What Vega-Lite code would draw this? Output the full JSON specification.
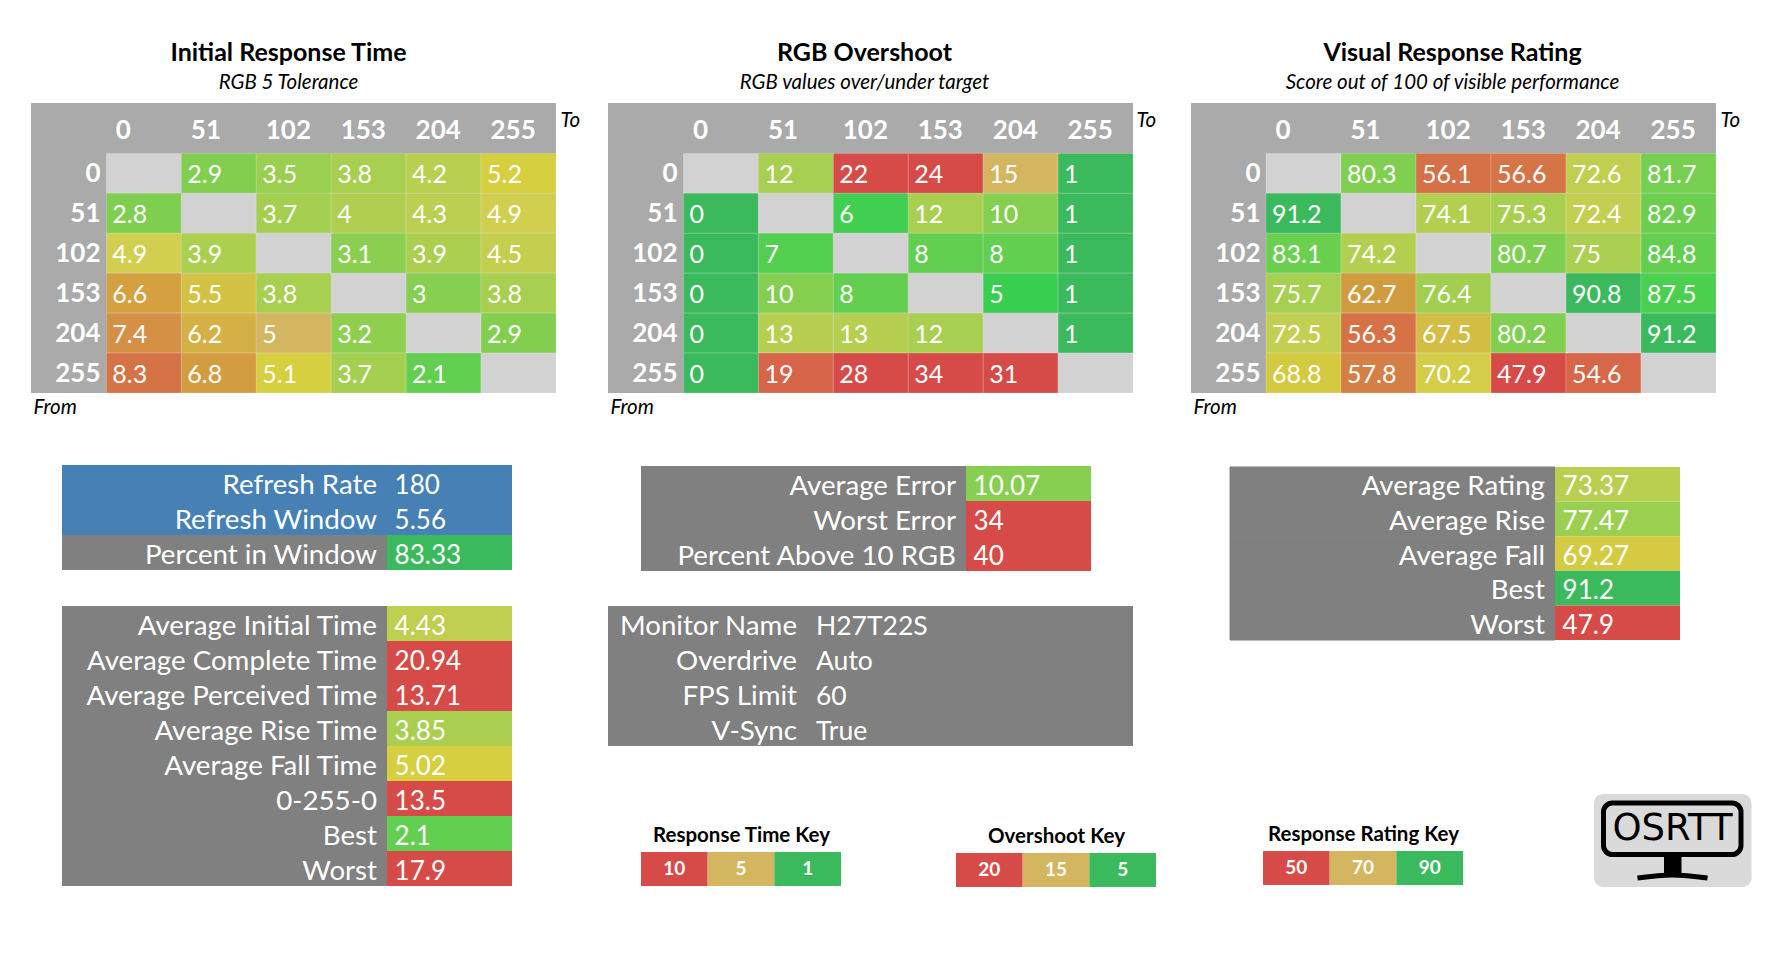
{
  "$schema": "https://vega.github.io/schema/vega-lite/v6.json",
  "width": 1784,
  "height": 962,
  "padding": 0,
  "autosize": {"type": "none"},
  "background": "white",
  "config": {
    "view": {"stroke": null},
    "text": {"font": "Lato", "color": "white"},
    "axis": {"labelFont": "Lato", "titleFont": "Lato", "grid": false, "domain": false, "ticks": false, "labelBound": false, "labelOverlap": false}
  },
  "datasets": {
    "initial": [
      {"from":0,"to":0,"value":null},{"from":0,"to":51,"value":2.9},{"from":0,"to":102,"value":3.5},{"from":0,"to":153,"value":3.8},{"from":0,"to":204,"value":4.2},{"from":0,"to":255,"value":5.2},
      {"from":51,"to":0,"value":2.8},{"from":51,"to":51,"value":null},{"from":51,"to":102,"value":3.7},{"from":51,"to":153,"value":4},{"from":51,"to":204,"value":4.3},{"from":51,"to":255,"value":4.9},
      {"from":102,"to":0,"value":4.9},{"from":102,"to":51,"value":3.9},{"from":102,"to":102,"value":null},{"from":102,"to":153,"value":3.1},{"from":102,"to":204,"value":3.9},{"from":102,"to":255,"value":4.5},
      {"from":153,"to":0,"value":6.6},{"from":153,"to":51,"value":5.5},{"from":153,"to":102,"value":3.8},{"from":153,"to":153,"value":null},{"from":153,"to":204,"value":3},{"from":153,"to":255,"value":3.8},
      {"from":204,"to":0,"value":7.4},{"from":204,"to":51,"value":6.2},{"from":204,"to":102,"value":5},{"from":204,"to":153,"value":3.2},{"from":204,"to":204,"value":null},{"from":204,"to":255,"value":2.9},
      {"from":255,"to":0,"value":8.3},{"from":255,"to":51,"value":6.8},{"from":255,"to":102,"value":5.1},{"from":255,"to":153,"value":3.7},{"from":255,"to":204,"value":2.1},{"from":255,"to":255,"value":null}
    ],
    "overshoot": [
      {"from":0,"to":0,"value":null},{"from":0,"to":51,"value":12},{"from":0,"to":102,"value":22},{"from":0,"to":153,"value":24},{"from":0,"to":204,"value":15},{"from":0,"to":255,"value":1},
      {"from":51,"to":0,"value":0},{"from":51,"to":51,"value":null},{"from":51,"to":102,"value":6},{"from":51,"to":153,"value":12},{"from":51,"to":204,"value":10},{"from":51,"to":255,"value":1},
      {"from":102,"to":0,"value":0},{"from":102,"to":51,"value":7},{"from":102,"to":102,"value":null},{"from":102,"to":153,"value":8},{"from":102,"to":204,"value":8},{"from":102,"to":255,"value":1},
      {"from":153,"to":0,"value":0},{"from":153,"to":51,"value":10},{"from":153,"to":102,"value":8},{"from":153,"to":153,"value":null},{"from":153,"to":204,"value":5},{"from":153,"to":255,"value":1},
      {"from":204,"to":0,"value":0},{"from":204,"to":51,"value":13},{"from":204,"to":102,"value":13},{"from":204,"to":153,"value":12},{"from":204,"to":204,"value":null},{"from":204,"to":255,"value":1},
      {"from":255,"to":0,"value":0},{"from":255,"to":51,"value":19},{"from":255,"to":102,"value":28},{"from":255,"to":153,"value":34},{"from":255,"to":204,"value":31},{"from":255,"to":255,"value":null}
    ],
    "rating": [
      {"from":0,"to":0,"value":null},{"from":0,"to":51,"value":80.3},{"from":0,"to":102,"value":56.1},{"from":0,"to":153,"value":56.6},{"from":0,"to":204,"value":72.6},{"from":0,"to":255,"value":81.7},
      {"from":51,"to":0,"value":91.2},{"from":51,"to":51,"value":null},{"from":51,"to":102,"value":74.1},{"from":51,"to":153,"value":75.3},{"from":51,"to":204,"value":72.4},{"from":51,"to":255,"value":82.9},
      {"from":102,"to":0,"value":83.1},{"from":102,"to":51,"value":74.2},{"from":102,"to":102,"value":null},{"from":102,"to":153,"value":80.7},{"from":102,"to":204,"value":75},{"from":102,"to":255,"value":84.8},
      {"from":153,"to":0,"value":75.7},{"from":153,"to":51,"value":62.7},{"from":153,"to":102,"value":76.4},{"from":153,"to":153,"value":null},{"from":153,"to":204,"value":90.8},{"from":153,"to":255,"value":87.5},
      {"from":204,"to":0,"value":72.5},{"from":204,"to":51,"value":56.3},{"from":204,"to":102,"value":67.5},{"from":204,"to":153,"value":80.2},{"from":204,"to":204,"value":null},{"from":204,"to":255,"value":91.2},
      {"from":255,"to":0,"value":68.8},{"from":255,"to":51,"value":57.8},{"from":255,"to":102,"value":70.2},{"from":255,"to":153,"value":47.9},{"from":255,"to":204,"value":54.6},{"from":255,"to":255,"value":null}
    ],
    "refresh": [
      {"label":"Refresh Rate","value":180,"group":"refresh"},
      {"label":"Refresh Window","value":5.56,"group":"refresh"},
      {"label":"Percent in Window","value":83.33,"group":"percent"}
    ],
    "times": [
      {"label":"Average Initial Time","value":4.43},
      {"label":"Average Complete Time","value":20.94},
      {"label":"Average Perceived Time","value":13.71},
      {"label":"Average Rise Time","value":3.85},
      {"label":"Average Fall Time","value":5.02},
      {"label":"0-255-0","value":13.5},
      {"label":"Best","value":2.1},
      {"label":"Worst","value":17.9}
    ],
    "errors": [
      {"label":"Average Error","value":10.07},
      {"label":"Worst Error","value":34},
      {"label":"Percent Above 10 RGB","value":40}
    ],
    "monitor": [
      {"label":"Monitor Name","value":"H27T22S"},
      {"label":"Overdrive","value":"Auto"},
      {"label":"FPS Limit","value":"60"},
      {"label":"V-Sync","value":"True"}
    ],
    "ratings": [
      {"label":"Average Rating","value":73.37},
      {"label":"Average Rise","value":77.47},
      {"label":"Average Fall","value":69.27},
      {"label":"Best","value":91.2},
      {"label":"Worst","value":47.9}
    ],
    "keyTime": [{"key":"10","level":"bad"},{"key":"5","level":"mid"},{"key":"1","level":"good"}],
    "keyOver": [{"key":"20","level":"bad"},{"key":"15","level":"mid"},{"key":"5","level":"good"}],
    "keyRate": [{"key":"50","level":"bad"},{"key":"70","level":"mid"},{"key":"90","level":"good"}]
  },
  "resolve": {"scale": {"x": "independent", "y": "independent", "color": "independent"}},
  "layer": [
    {"data":{"values":[{"t":"Initial Response Time"}]},"mark":{"type":"text","fontSize":25,"fontWeight":"bold","color":"black"},"encoding":{"text":{"field":"t"},"x":{"field":"t","type":"nominal","axis":null,"scale":{"type":"point","range":[288,289]}},"y":{"field":"t","type":"nominal","axis":null,"scale":{"type":"point","range":[52,53]}}}},
    {"data":{"values":[{"t":"RGB 5 Tolerance"}]},"mark":{"type":"text","fontSize":20.5,"fontStyle":"italic","color":"black"},"encoding":{"text":{"field":"t"},"x":{"field":"t","type":"nominal","axis":null,"scale":{"type":"point","range":[288,289]}},"y":{"field":"t","type":"nominal","axis":null,"scale":{"type":"point","range":[82.5,83.5]}}}},
    {"data":{"values":[{"t":"RGB Overshoot"}]},"mark":{"type":"text","fontSize":25,"fontWeight":"bold","color":"black"},"encoding":{"text":{"field":"t"},"x":{"field":"t","type":"nominal","axis":null,"scale":{"type":"point","range":[864,865]}},"y":{"field":"t","type":"nominal","axis":null,"scale":{"type":"point","range":[52,53]}}}},
    {"data":{"values":[{"t":"RGB values over/under target"}]},"mark":{"type":"text","fontSize":20.5,"fontStyle":"italic","color":"black"},"encoding":{"text":{"field":"t"},"x":{"field":"t","type":"nominal","axis":null,"scale":{"type":"point","range":[864,865]}},"y":{"field":"t","type":"nominal","axis":null,"scale":{"type":"point","range":[82.5,83.5]}}}},
    {"data":{"values":[{"t":"Visual Response Rating"}]},"mark":{"type":"text","fontSize":25,"fontWeight":"bold","color":"black"},"encoding":{"text":{"field":"t"},"x":{"field":"t","type":"nominal","axis":null,"scale":{"type":"point","range":[1452,1453]}},"y":{"field":"t","type":"nominal","axis":null,"scale":{"type":"point","range":[52,53]}}}},
    {"data":{"values":[{"t":"Score out of 100 of visible performance"}]},"mark":{"type":"text","fontSize":20.5,"fontStyle":"italic","color":"black"},"encoding":{"text":{"field":"t"},"x":{"field":"t","type":"nominal","axis":null,"scale":{"type":"point","range":[1452,1453]}},"y":{"field":"t","type":"nominal","axis":null,"scale":{"type":"point","range":[82.5,83.5]}}}},

    {"data":{"values":[{"part":"header"}]},"mark":{"type":"rect","color":"#a9aaa9"},"encoding":{"x":{"field":"part","type":"nominal","axis":null,"scale":{"range":[31,556]}},"y":{"field":"part","type":"nominal","axis":null,"scale":{"range":[103,393]}}}},
    {"data":{"values":[{"part":"header"}]},"mark":{"type":"rect","color":"#a9aaa9"},"encoding":{"x":{"field":"part","type":"nominal","axis":null,"scale":{"range":[608,1133]}},"y":{"field":"part","type":"nominal","axis":null,"scale":{"range":[103,393]}}}},
    {"data":{"values":[{"part":"header"}]},"mark":{"type":"rect","color":"#a9aaa9"},"encoding":{"x":{"field":"part","type":"nominal","axis":null,"scale":{"range":[1191,1716]}},"y":{"field":"part","type":"nominal","axis":null,"scale":{"range":[103,393]}}}},

    {
      "data": {"name": "initial"},
      "encoding": {
        "x":{"field":"to","type":"ordinal","scale":{"type":"band","range":[106.4,556],"padding":0},
          "axis":{"orient":"top","zindex":1,"offset":-138,"labelPadding":0,"labelFontSize":26,"labelFontWeight":"bold","labelColor":"white","labelAngle":0,"labelAlign":"left","labelBaseline":"alphabetic","labelOffset":-28,"title":"To","titleFontSize":20.5,"titleFontStyle":"italic","titleFontWeight":"normal","titleColor":"black","titleAngle":0,"titleAlign":"left","titleBaseline":"alphabetic","titleX":560,"titleY":-12}},
        "y":{"field":"from","type":"ordinal","scale":{"type":"band","range":[153.4,393],"padding":0},
          "axis":{"orient":"left","zindex":1,"offset":-100,"labelPadding":0,"labelFontSize":26,"labelFontWeight":"bold","labelColor":"white","labelOffset":1,"title":"From","titleFontSize":20.5,"titleFontStyle":"italic","titleFontWeight":"normal","titleColor":"black","titleAngle":0,"titleAlign":"left","titleBaseline":"alphabetic","titleX":-67,"titleY":413}}
      },
      "layer": [
        {"mark":{"type":"rect","invalid":"show","stroke":"#ffffff","strokeOpacity":0.2,"strokeWidth":1},
         "encoding":{
          "color":{"condition":{"test":"datum.value === null","value":"#d2d2d2"},"field":"value","type":"quantitative","legend":null,
            "scale":{"type":"linear","interpolate":"rgb","clamp":true,"domain":[1,2.1,2.9,3.8,4.5,4.99,5,5.01,5.2,5.5,6.2,6.6,7.4,8.3,10],"range":["#3bba5d","#63cf50","#82cf50","#a8cf50","#c4cf50","#d5cf50","#d4b560","#d6cf40","#d6cf40","#d4c245","#d4b045","#d4a040","#d49045","#d67346","#d64b48"]}}
         }},
        {"transform":[{"filter":"datum.value !== null"}],"mark":{"type":"text","align":"left","dx":-31.5,"dy":2,"fontSize":25},
         "encoding":{"text":{"field":"value","type":"nominal"}}}
      ]
    },
    {
      "data": {"name": "overshoot"},
      "encoding": {
        "x":{"field":"to","type":"ordinal","scale":{"type":"band","range":[683.5,1133],"padding":0},
          "axis":{"orient":"top","zindex":1,"offset":-138,"labelPadding":0,"labelFontSize":26,"labelFontWeight":"bold","labelColor":"white","labelAngle":0,"labelAlign":"left","labelBaseline":"alphabetic","labelOffset":-28,"title":"To","titleFontSize":20.5,"titleFontStyle":"italic","titleFontWeight":"normal","titleColor":"black","titleAngle":0,"titleAlign":"left","titleBaseline":"alphabetic","titleX":1136,"titleY":-12}},
        "y":{"field":"from","type":"ordinal","scale":{"type":"band","range":[153.4,393],"padding":0},
          "axis":{"orient":"left","zindex":1,"offset":-677,"labelPadding":0,"labelFontSize":26,"labelFontWeight":"bold","labelColor":"white","labelOffset":1,"title":"From","titleFontSize":20.5,"titleFontStyle":"italic","titleFontWeight":"normal","titleColor":"black","titleAngle":0,"titleAlign":"left","titleBaseline":"alphabetic","titleX":-67,"titleY":413}}
      },
      "layer": [
        {"mark":{"type":"rect","invalid":"show","stroke":"#ffffff","strokeOpacity":0.2,"strokeWidth":1},
         "encoding":{
          "color":{"condition":{"test":"datum.value === null","value":"#d2d2d2"},"field":"value","type":"quantitative","legend":null,
            "scale":{"type":"linear","interpolate":"rgb","clamp":true,"domain":[1,4.9,5,6,7,8,10,12,13,14.9,15,15.1,19,22],"range":["#3bba5d","#38cf50","#38cf50","#40cf50","#52cf50","#63cf50","#85cf50","#a8cf50","#b6cf50","#d0cf50","#d4b560","#d6a850","#d6654a","#d64b48"]}}
         }},
        {"transform":[{"filter":"datum.value !== null"}],"mark":{"type":"text","align":"left","dx":-31.5,"dy":2,"fontSize":25},
         "encoding":{"text":{"field":"value","type":"nominal"}}}
      ]
    },
    {
      "data": {"name": "rating"},
      "encoding": {
        "x":{"field":"to","type":"ordinal","scale":{"type":"band","range":[1266,1716],"padding":0},
          "axis":{"orient":"top","zindex":1,"offset":-138,"labelPadding":0,"labelFontSize":26,"labelFontWeight":"bold","labelColor":"white","labelAngle":0,"labelAlign":"left","labelBaseline":"alphabetic","labelOffset":-28,"title":"To","titleFontSize":20.5,"titleFontStyle":"italic","titleFontWeight":"normal","titleColor":"black","titleAngle":0,"titleAlign":"left","titleBaseline":"alphabetic","titleX":1720,"titleY":-12}},
        "y":{"field":"from","type":"ordinal","scale":{"type":"band","range":[153.4,393],"padding":0},
          "axis":{"orient":"left","zindex":1,"offset":-1260,"labelPadding":0,"labelFontSize":26,"labelFontWeight":"bold","labelColor":"white","labelOffset":1,"title":"From","titleFontSize":20.5,"titleFontStyle":"italic","titleFontWeight":"normal","titleColor":"black","titleAngle":0,"titleAlign":"left","titleBaseline":"alphabetic","titleX":-67,"titleY":413}}
      },
      "layer": [
        {"mark":{"type":"rect","invalid":"show","stroke":"#ffffff","strokeOpacity":0.2,"strokeWidth":1},
         "encoding":{
          "color":{"condition":{"test":"datum.value === null","value":"#d2d2d2"},"field":"value","type":"quantitative","legend":null,
            "scale":{"type":"linear","interpolate":"rgb","clamp":true,"domain":[50,54.6,56.1,57.8,62.7,67.5,68.8,70.2,72.5,75,77.5,80,82.9,84.8,87.5,90],"range":["#d64b48","#d66748","#d67046","#d47f45","#d19c40","#d4bd45","#d4ca40","#d3cd48","#c2cf50","#abcf50","#9bcf50","#82cf50","#6ccf50","#63cf50","#4bcf4f","#3bba5d"]}}
         }},
        {"transform":[{"filter":"datum.value !== null"}],"mark":{"type":"text","align":"left","dx":-31.5,"dy":2,"fontSize":25},
         "encoding":{"text":{"field":"value","type":"nominal"}}}
      ]
    },

    {
      "data": {"name": "refresh"},
      "encoding": {"y":{"field":"label","type":"nominal","sort":null,"axis":null,"scale":{"type":"band","range":[465,570],"padding":0}}},
      "layer": [
        {"mark":{"type":"rect"},"encoding":{"x":{"datum":"name","type":"nominal","axis":null,"scale":{"type":"band","range":[62,387],"padding":0}},"color":{"field":"group","type":"nominal","legend":null,"scale":{"domain":["refresh","percent"],"range":["#4680b5","#808080"]}}}},
        {"mark":{"type":"text","align":"right","dx":-10,"dy":3,"fontSize":27.7},"encoding":{"x":{"datum":"name","type":"nominal","bandPosition":1,"axis":null,"scale":{"type":"band","range":[62,387],"padding":0}},"text":{"field":"label"}}}
      ]
    },
    {
      "data": {"name": "refresh"},
      "encoding": {"y":{"field":"label","type":"nominal","sort":null,"axis":null,"scale":{"type":"band","range":[465,570],"padding":0}}},
      "layer": [
        {"mark":{"type":"rect"},"encoding":{"x":{"datum":"reading","type":"nominal","axis":null,"scale":{"type":"band","range":[387,512],"padding":0}},"color":{"field":"group","type":"nominal","legend":null,"scale":{"domain":["refresh","percent"],"range":["#4680b5","#3bba5d"]}}}},
        {"mark":{"type":"text","align":"left","dx":7.6,"dy":3,"fontSize":26},"encoding":{"x":{"datum":"reading","type":"nominal","bandPosition":0,"axis":null,"scale":{"type":"band","range":[387,512],"padding":0}},"text":{"field":"value","type":"nominal"}}}
      ]
    },
    {
      "data": {"name": "times"},
      "encoding": {"y":{"field":"label","type":"nominal","sort":null,"axis":null,"scale":{"type":"band","range":[606,886],"padding":0}}},
      "layer": [
        {"mark":{"type":"rect","color":"#808080"},"encoding":{"x":{"datum":"name","type":"nominal","axis":null,"scale":{"type":"band","range":[62,387],"padding":0}}}},
        {"mark":{"type":"text","align":"right","dx":-10,"dy":3,"fontSize":27.7},"encoding":{"x":{"datum":"name","type":"nominal","bandPosition":1,"axis":null,"scale":{"type":"band","range":[62,387],"padding":0}},"text":{"field":"label"}}}
      ]
    },
    {
      "data": {"name": "times"},
      "encoding": {"y":{"field":"label","type":"nominal","sort":null,"axis":null,"scale":{"type":"band","range":[606,886],"padding":0}}},
      "layer": [
        {"mark":{"type":"rect"},"encoding":{"x":{"datum":"reading","type":"nominal","axis":null,"scale":{"type":"band","range":[387,512],"padding":0}},"color":{"field":"value","type":"quantitative","legend":null,
            "scale":{"type":"linear","interpolate":"rgb","clamp":true,"domain":[1,2.1,2.9,3.8,4.5,4.99,5,5.01,5.2,5.5,6.2,6.6,7.4,8.3,10],"range":["#3bba5d","#63cf50","#82cf50","#a8cf50","#c4cf50","#d5cf50","#d4b560","#d6cf40","#d6cf40","#d4c245","#d4b045","#d4a040","#d49045","#d67346","#d64b48"]}}}},
        {"mark":{"type":"text","align":"left","dx":7.6,"dy":3,"fontSize":26},"encoding":{"x":{"datum":"reading","type":"nominal","bandPosition":0,"axis":null,"scale":{"type":"band","range":[387,512],"padding":0}},"text":{"field":"value","type":"nominal"}}}
      ]
    },
    {
      "data": {"name": "errors"},
      "encoding": {"y":{"field":"label","type":"nominal","sort":null,"axis":null,"scale":{"type":"band","range":[466,571],"padding":0}}},
      "layer": [
        {"mark":{"type":"rect","color":"#808080"},"encoding":{"x":{"datum":"name","type":"nominal","axis":null,"scale":{"type":"band","range":[641,966],"padding":0}}}},
        {"mark":{"type":"text","align":"right","dx":-10,"dy":3,"fontSize":27.7},"encoding":{"x":{"datum":"name","type":"nominal","bandPosition":1,"axis":null,"scale":{"type":"band","range":[641,966],"padding":0}},"text":{"field":"label"}}}
      ]
    },
    {
      "data": {"name": "errors"},
      "encoding": {"y":{"field":"label","type":"nominal","sort":null,"axis":null,"scale":{"type":"band","range":[466,571],"padding":0}}},
      "layer": [
        {"mark":{"type":"rect"},"encoding":{"x":{"datum":"reading","type":"nominal","axis":null,"scale":{"type":"band","range":[966,1091],"padding":0}},"color":{"field":"value","type":"quantitative","legend":null,
            "scale":{"type":"linear","interpolate":"rgb","clamp":true,"domain":[1,4.9,5,6,7,8,10,12,13,14.9,15,15.1,19,22],"range":["#3bba5d","#38cf50","#38cf50","#40cf50","#52cf50","#63cf50","#85cf50","#a8cf50","#b6cf50","#d0cf50","#d4b560","#d6a850","#d6654a","#d64b48"]}}}},
        {"mark":{"type":"text","align":"left","dx":7.6,"dy":3,"fontSize":26},"encoding":{"x":{"datum":"reading","type":"nominal","bandPosition":0,"axis":null,"scale":{"type":"band","range":[966,1091],"padding":0}},"text":{"field":"value","type":"nominal"}}}
      ]
    },
    {
      "data": {"name": "monitor"},
      "encoding": {"y":{"field":"label","type":"nominal","sort":null,"axis":null,"scale":{"type":"band","range":[606,746],"padding":0}}},
      "layer": [
        {"mark":{"type":"rect","color":"#808080"},"encoding":{"x":{"datum":"name","type":"nominal","axis":null,"scale":{"type":"band","range":[608,807],"padding":0}}}},
        {"mark":{"type":"text","align":"right","dx":-10,"dy":3,"fontSize":27.7},"encoding":{"x":{"datum":"name","type":"nominal","bandPosition":1,"axis":null,"scale":{"type":"band","range":[608,807],"padding":0}},"text":{"field":"label"}}}
      ]
    },
    {
      "data": {"name": "monitor"},
      "encoding": {"y":{"field":"label","type":"nominal","sort":null,"axis":null,"scale":{"type":"band","range":[606,746],"padding":0}}},
      "layer": [
        {"mark":{"type":"rect","color":"#808080"},"encoding":{"x":{"datum":"reading","type":"nominal","axis":null,"scale":{"type":"band","range":[807,1133],"padding":0}}}},
        {"mark":{"type":"text","align":"left","dx":9,"dy":3,"fontSize":26.5},"encoding":{"x":{"datum":"reading","type":"nominal","bandPosition":0,"axis":null,"scale":{"type":"band","range":[807,1133],"padding":0}},"text":{"field":"value"}}}
      ]
    },
    {
      "data": {"name": "ratings"},
      "encoding": {"y":{"field":"label","type":"nominal","sort":null,"axis":null,"scale":{"type":"band","range":[467,640],"padding":0}}},
      "layer": [
        {"mark":{"type":"rect","color":"#808080","stroke":"#808080","strokeWidth":1},"encoding":{"x":{"datum":"name","type":"nominal","axis":null,"scale":{"type":"band","range":[1230,1555],"padding":0}}}},
        {"mark":{"type":"text","align":"right","dx":-10,"dy":3,"fontSize":27.7},"encoding":{"x":{"datum":"name","type":"nominal","bandPosition":1,"axis":null,"scale":{"type":"band","range":[1230,1555],"padding":0}},"text":{"field":"label"}}}
      ]
    },
    {
      "data": {"name": "ratings"},
      "encoding": {"y":{"field":"label","type":"nominal","sort":null,"axis":null,"scale":{"type":"band","range":[467,640],"padding":0}}},
      "layer": [
        {"mark":{"type":"rect"},"encoding":{"x":{"datum":"reading","type":"nominal","axis":null,"scale":{"type":"band","range":[1555,1680],"padding":0}},"color":{"field":"value","type":"quantitative","legend":null,
            "scale":{"type":"linear","interpolate":"rgb","clamp":true,"domain":[50,54.6,56.1,57.8,62.7,67.5,68.8,70.2,72.5,75,77.5,80,82.9,84.8,87.5,90],"range":["#d64b48","#d66748","#d67046","#d47f45","#d19c40","#d4bd45","#d4ca40","#d3cd48","#c2cf50","#abcf50","#9bcf50","#82cf50","#6ccf50","#63cf50","#4bcf4f","#3bba5d"]}}}},
        {"mark":{"type":"text","align":"left","dx":7.6,"dy":3,"fontSize":26},"encoding":{"x":{"datum":"reading","type":"nominal","bandPosition":0,"axis":null,"scale":{"type":"band","range":[1555,1680],"padding":0}},"text":{"field":"value","type":"nominal"}}}
      ]
    },

    {
      "data": {"name": "keyTime"},
      "encoding": {
        "x":{"field":"key","type":"nominal","sort":null,"scale":{"type":"band","range":[641,841],"padding":0},"axis":{"orient":"top","offset":-852,"labels":false,"title":"Response Time Key","titleFontSize":20.5,"titleFontWeight":"bold","titleColor":"black","titlePadding":7}},
        "y":{"datum":"key","type":"nominal","axis":null,"scale":{"type":"band","range":[852,886],"padding":0}}
      },
      "layer": [
        {"mark":{"type":"rect"},"encoding":{"color":{"field":"level","type":"nominal","legend":null,"scale":{"domain":["bad","mid","good"],"range":["#d64b48","#d4b560","#3bba5d"]}}}},
        {"mark":{"type":"text","fontSize":19,"fontWeight":"bold"},"encoding":{"text":{"field":"key"}}}
      ]
    },
    {
      "data": {"name": "keyOver"},
      "encoding": {
        "x":{"field":"key","type":"nominal","sort":null,"scale":{"type":"band","range":[956,1156],"padding":0},"axis":{"orient":"top","offset":-853,"labels":false,"title":"Overshoot Key","titleFontSize":20.5,"titleFontWeight":"bold","titleColor":"black","titlePadding":7}},
        "y":{"datum":"key","type":"nominal","axis":null,"scale":{"type":"band","range":[853,887],"padding":0}}
      },
      "layer": [
        {"mark":{"type":"rect"},"encoding":{"color":{"field":"level","type":"nominal","legend":null,"scale":{"domain":["bad","mid","good"],"range":["#d64b48","#d4b560","#3bba5d"]}}}},
        {"mark":{"type":"text","fontSize":19,"fontWeight":"bold"},"encoding":{"text":{"field":"key"}}}
      ]
    },
    {
      "data": {"name": "keyRate"},
      "encoding": {
        "x":{"field":"key","type":"nominal","sort":null,"scale":{"type":"band","range":[1263,1463],"padding":0},"axis":{"orient":"top","offset":-851,"labels":false,"title":"Response Rating Key","titleFontSize":20.5,"titleFontWeight":"bold","titleColor":"black","titlePadding":7}},
        "y":{"datum":"key","type":"nominal","axis":null,"scale":{"type":"band","range":[851,885],"padding":0}}
      },
      "layer": [
        {"mark":{"type":"rect"},"encoding":{"color":{"field":"level","type":"nominal","legend":null,"scale":{"domain":["bad","mid","good"],"range":["#d64b48","#d4b560","#3bba5d"]}}}},
        {"mark":{"type":"text","fontSize":19,"fontWeight":"bold"},"encoding":{"text":{"field":"key"}}}
      ]
    },

    {"data":{"values":[{"part":"logo"}]},"mark":{"type":"rect","color":"#dadada","cornerRadius":9},"encoding":{"x":{"field":"part","type":"nominal","axis":null,"scale":{"range":[1594,1751.5]}},"y":{"field":"part","type":"nominal","axis":null,"scale":{"range":[794,887]}}}},
    {"data":{"values":[{"part":"screen"}]},"mark":{"type":"rect","fill":null,"stroke":"black","strokeWidth":5,"cornerRadius":9},"encoding":{"x":{"field":"part","type":"nominal","axis":null,"scale":{"range":[1603.5,1741]}},"y":{"field":"part","type":"nominal","axis":null,"scale":{"range":[803,854.5]}}}},
    {"data":{"values":[{"part":"stand"}]},"mark":{"type":"rect","color":"black"},"encoding":{"x":{"field":"part","type":"nominal","axis":null,"scale":{"range":[1664,1681.5]}},"y":{"field":"part","type":"nominal","axis":null,"scale":{"range":[856,875]}}}},
    {"data":{"values":[{"pos":"left","rise":"low"},{"pos":"mid","rise":"high"},{"pos":"right","rise":"low"}]},"mark":{"type":"line","color":"black","strokeWidth":5,"interpolate":"monotone"},"encoding":{"x":{"field":"pos","type":"nominal","sort":null,"axis":null,"scale":{"type":"point","range":[1637.5,1707.5],"padding":0}},"y":{"field":"rise","type":"nominal","sort":["high","low"],"axis":null,"scale":{"type":"point","range":[875,878],"padding":0}}}},
    {"data":{"values":[{"name":"OSRTT"}]},"mark":{"type":"text","font":"DejaVu Sans","fontSize":37,"color":"black"},"encoding":{"text":{"field":"name"},"x":{"field":"name","type":"nominal","axis":null,"scale":{"type":"point","range":[1672,1673]}},"y":{"field":"name","type":"nominal","axis":null,"scale":{"type":"point","range":[828,829]}}}}
  ]
}
